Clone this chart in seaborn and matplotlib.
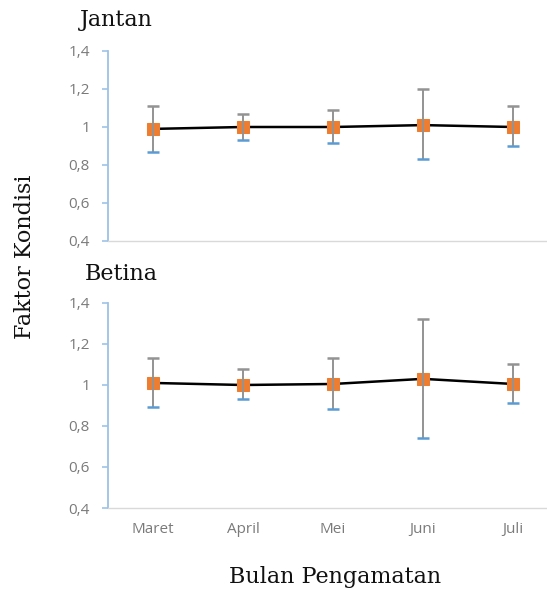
import matplotlib
matplotlib.use("Agg")
import matplotlib.pyplot as plt
import numpy as np
import pandas as pd
import seaborn as sns

# Observation months
months = ["Maret", "April", "Mei", "Juni", "Juli"]

# Condition factor, males (Jantan): mean with upper / lower bounds
jantan_mean = [0.99, 1.00, 1.00, 1.01, 1.00]
jantan_upper = [1.11, 1.07, 1.09, 1.20, 1.11]
jantan_lower = [0.87, 0.93, 0.915, 0.83, 0.90]

# Condition factor, females (Betina)
betina_mean = [1.01, 1.00, 1.005, 1.03, 1.005]
betina_upper = [1.13, 1.08, 1.13, 1.32, 1.10]
betina_lower = [0.895, 0.93, 0.885, 0.74, 0.91]

# Y-axis ticks and their labels (decimal comma)
y_ticks = [0.4, 0.6, 0.8, 1.0, 1.2, 1.4]
y_tick_labels = ["0,4", "0,6", "0,8", "1", "1,2", "1,4"]

sns.set_theme(style="white")
plt.rcParams["font.family"] = ["Open Sans", "DejaVu Sans"]

ORANGE = "#ED7D31"
BLUE = "#5B9BD5"
GRAY = "#939393"
AXIS_BLUE = "#9DC3E6"
TICK_GRAY = "#7A7A7A"

fig = plt.figure(figsize=(5.47, 5.90), dpi=100)
ax_top = fig.add_axes([108 / 547, 1 - 241 / 590, 450 / 547, 190 / 590])
ax_bot = fig.add_axes([108 / 547, 1 - 508 / 590, 450 / 547, 205 / 590])


def draw_panel(ax, mean, upper, lower, show_x):
    df = pd.DataFrame({"Bulan": months, "Faktor": mean})
    lo = np.array(mean) - np.array(lower)
    hi = np.array(upper) - np.array(mean)
    sns.lineplot(data=df, x="Bulan", y="Faktor", ax=ax, color="black",
                 linewidth=1.8, marker="s", markersize=8,
                 markerfacecolor=ORANGE, markeredgecolor=ORANGE, zorder=3)
    _, caps, bars = ax.errorbar(months, mean, yerr=[lo, hi], fmt="none",
                                ecolor=GRAY, elinewidth=1.4, capsize=4.5,
                                capthick=1.8, zorder=4)
    # lower caps blue, upper caps gray
    caps[0].set_color(BLUE)
    caps[0].set_markeredgecolor(BLUE)
    caps[1].set_color(GRAY)

    ax.set_xlim(-0.5, 4.5)
    ax.set_ylim(0.4, 1.4)
    ax.set_yticks(y_ticks)
    ax.set_yticklabels(y_tick_labels)
    ax.set_xlabel("")
    ax.set_ylabel("")
    for s in ["top", "right"]:
        ax.spines[s].set_visible(False)
    ax.spines["left"].set_color(AXIS_BLUE)
    ax.spines["left"].set_linewidth(1.3)
    ax.spines["bottom"].set_color("#D9D9D9")
    ax.spines["bottom"].set_linewidth(1.0)
    ax.tick_params(axis="y", which="major", left=True, length=4,
                   width=1.2, color=AXIS_BLUE, pad=9,
                   labelsize=11, labelcolor=TICK_GRAY)
    ax.tick_params(axis="x", bottom=False, length=0, pad=10,
                   labelsize=11, labelcolor=TICK_GRAY)
    if not show_x:
        ax.set_xticklabels([])


draw_panel(ax_top, jantan_mean, jantan_upper, jantan_lower, False)
draw_panel(ax_bot, betina_mean, betina_upper, betina_lower, True)

serif = ["DejaVu Serif"]
fig.text(80 / 547, 1 - 20 / 590, "Jantan", family=serif, fontsize=16,
         ha="left", va="center", color="#111111")
fig.text(85 / 547, 1 - 274 / 590, "Betina", family=serif, fontsize=16,
         ha="left", va="center", color="#111111")
fig.text(25 / 547, 1 - 257 / 590, "Faktor Kondisi", family=serif,
         fontsize=16, rotation=90, ha="center", va="center", color="#111111")
fig.text(335 / 547, 1 - 577 / 590, "Bulan Pengamatan", family=serif,
         fontsize=16, ha="center", va="center", color="#111111")

fig.savefig("out.png", dpi=100)
